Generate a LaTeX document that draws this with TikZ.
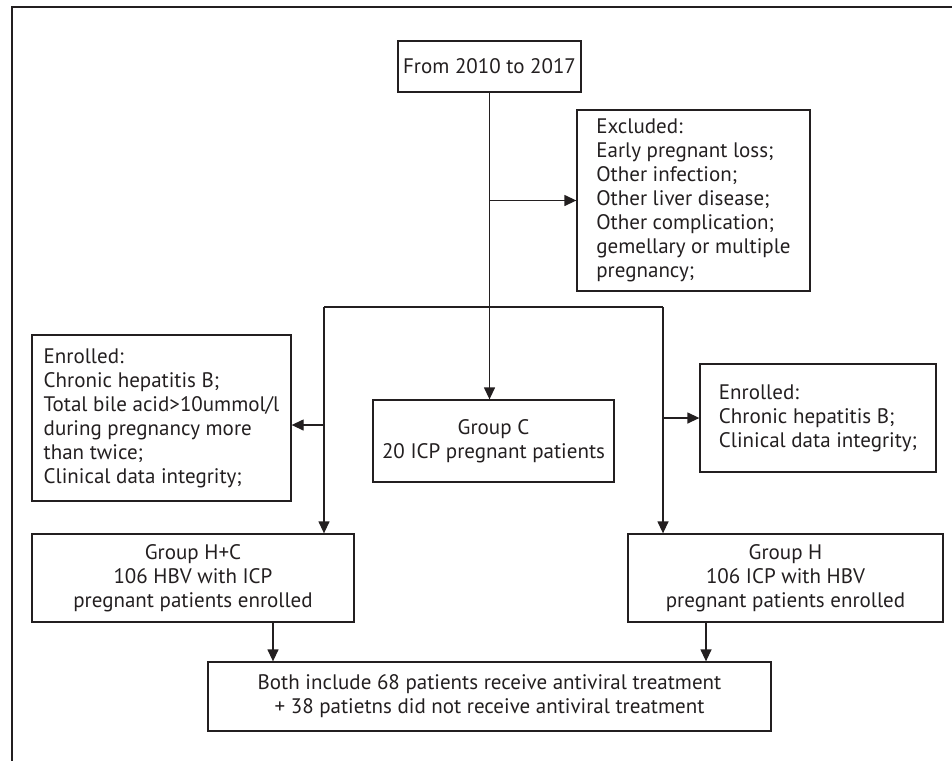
\documentclass[tikz,border=0pt]{standalone}
\usepackage{fontspec}
\setmainfont{PT Sans}
\usetikzlibrary{arrows.meta,calc}
\definecolor{inkgray}{RGB}{35,31,32}

\begin{document}
\begin{tikzpicture}[x=1pt,y=-1pt,
    box/.style={draw=inkgray, line width=1.3pt, inner sep=0pt, text=inkgray, align=center,
                font=\fontsize{21}{24}\selectfont},
    listbox/.style={box, align=left},
    link/.style={draw=inkgray, line width=1.3pt},
    flow/.style={link, -{Triangle[length=12pt,width=11pt]}}]
    \useasboundingbox (0,0) rectangle (952,761);

    % frame
    \draw[inkgray, line width=1.4pt] (952,7) -- (12,7) -- (12,761);

    % boxes
    \node[box, minimum width=183pt, minimum height=51pt] (from) at (489.5,66.5) {From 2010 to 2017};
    \node[listbox, minimum width=233pt, minimum height=181pt] (excl) at (693.5,200.5)
        {Excluded:\\Early pregnant loss;\\Other infection;\\Other liver disease;\\Other complication;\\gemellary or multiple\\pregnancy;};
    \node[listbox, minimum width=259pt, minimum height=166pt] (enl) at (161.5,418)
        {Enrolled:\\Chronic hepatitis B;\\Total bile acid>10ummol/l\\during pregnancy more\\than twice;\\Clinical data integrity;};
    \node[box, minimum width=241pt, minimum height=82pt] (grpC) at (493.5,441)
        {Group C\\20 ICP pregnant patients};
    \node[listbox, minimum width=236pt, minimum height=108pt] (enr) at (818,418)
        {Enrolled:\\Chronic hepatitis B;\\Clinical data integrity;};
    \node[box, minimum width=322pt, minimum height=88pt] (hc) at (193,578)
        {Group H+C\\106 HBV with ICP\\pregnant patients enrolled};
    \node[box, minimum width=315pt, minimum height=88pt] (gh) at (785.5,578)
        {Group H\\106 ICP with HBV\\pregnant patients enrolled};
    \node[box, minimum width=563pt, minimum height=69pt] (both) at (489.5,696.5)
        {Both include 68 patients receive antiviral treatment\\+ 38 patietns did not receive antiviral treatment};

    % branch points
    \coordinate (jl) at (324,307);
    \coordinate (jr) at (663,307);
    \coordinate (jlmid) at (324,425);
    \coordinate (inl) at ([xshift=-216.5pt]both.north);
    \coordinate (inr) at ([xshift=216.5pt]both.north);

    % connectors
    \draw[flow] (from.south) -- (from.south |- grpC.north);
    \draw[flow] (from.south |- excl.west) -- (excl.west);
    \draw[link] (jl) -- (jr);
    \draw[flow] (jl) -- (jl |- hc.north);
    \draw[flow] (jlmid) -- (jlmid -| enl.east);
    \draw[flow] (jr) -- (jr |- gh.north);
    \draw[flow] (jr |- enr.west) -- (enr.west);
    \draw[flow] (inl |- hc.south) -- (inl);
    \draw[flow] (inr |- gh.south) -- (inr);
\end{tikzpicture}
\end{document}
